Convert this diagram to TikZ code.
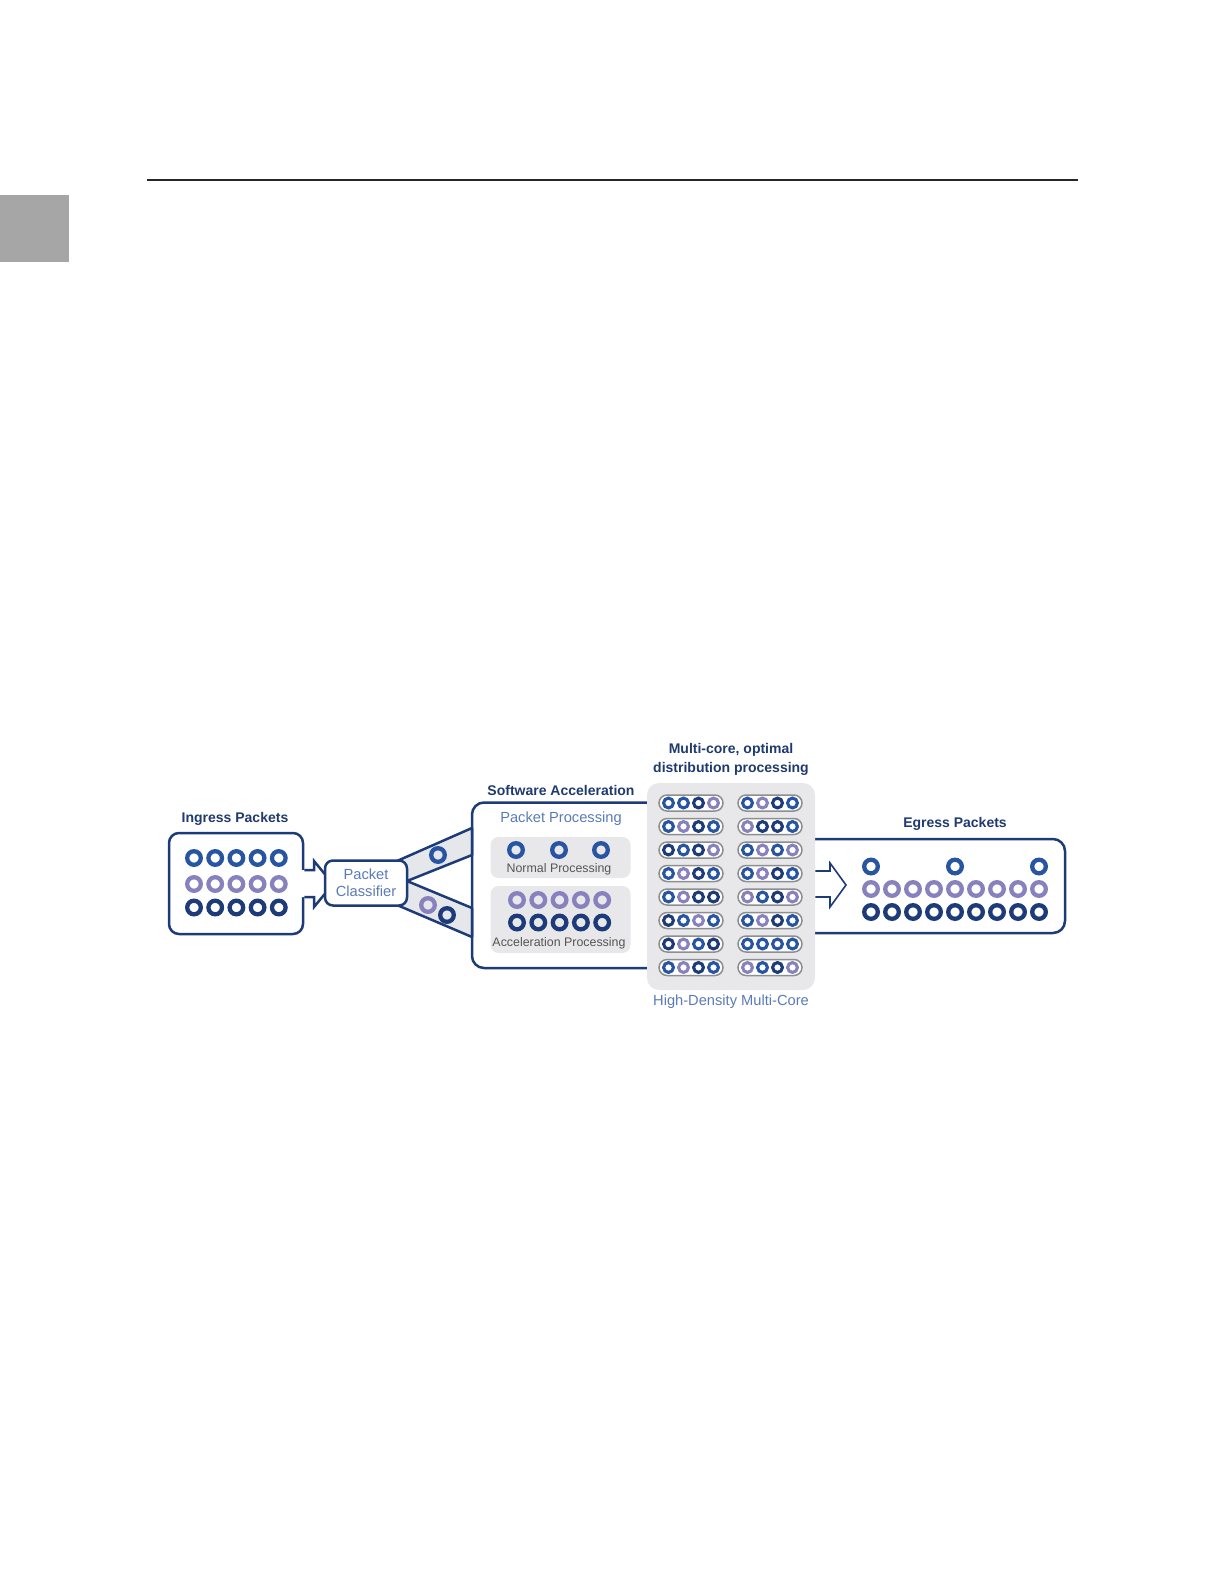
\documentclass[tikz,border=0pt]{standalone}
\usepackage{fontspec}
\setmainfont{Liberation Sans}
\newlength\upx \setlength\upx{0.75pt}
\definecolor{navy}{HTML}{1C3B78}
\definecolor{rblue}{HTML}{2755A2}
\definecolor{rpurp}{HTML}{8782BD}
\definecolor{tnavy}{HTML}{1F3A6E}
\definecolor{tblue}{HTML}{5A7BB8}
\definecolor{tgray}{HTML}{555555}
\definecolor{pgray}{HTML}{E8E8EA}
\definecolor{bandgray}{HTML}{E6E7EA}
\definecolor{pillline}{HTML}{8E8E8E}
\definecolor{sidegray}{HTML}{A6A6A6}
\tikzset{
  title/.style={text=tnavy, font=\bfseries\fontsize{10.5}{14.25}\selectfont, inner sep=0pt, align=center},
  bluelbl/.style={text=tblue, font=\fontsize{11}{12.75}\selectfont, inner sep=0pt, align=center},
  graylbl/.style={text=tgray, font=\fontsize{9.3}{11}\selectfont, inner sep=0pt},
  boxline/.style={draw=navy, line width=2.5\upx},
  whitebox/.style={boxline, fill=white, rounded corners=7.5pt, inner sep=0pt},
  graybox/.style={fill=pgray, rounded corners=6pt, inner sep=0pt},
  band/.style={boxline, fill=bandgray, line join=round},
  bigring/.style={line width=4.3\upx},
  smallring/.style={line width=3.1\upx},
  pill/.style={draw=pillline, fill=white, line width=1.5\upx, rounded corners=6pt},
}
\begin{document}
\begin{tikzpicture}[x=0.75pt,y=-0.75pt]
\useasboundingbox (0,0) rectangle (1224,1584);
% page header
\draw[line width=1.3\upx, draw=black!85] (147,180) -- (1078,180);
\fill[sidegray] (0,195) rectangle (69,262);

% band end points
\coordinate (uT) at (397,861);
\coordinate (mid) at (407,881);
\coordinate (lB) at (397,905);
\coordinate (saUT) at (472,828);
\coordinate (saUB) at (472,855);
\coordinate (saLT) at (472,908);
\coordinate (saLB) at (472,937);
% bands
\draw[band] (uT) -- (saUT) -- (saUB) -- (mid) -- cycle;
\draw[band] (mid) -- (saLT) -- (saLB) -- (lB) -- cycle;
\draw[bigring, rblue] (438,855) circle[radius=6.8];
\draw[bigring, rpurp] (428,905) circle[radius=6.8];
\draw[bigring, navy] (447,915) circle[radius=6.8];

% Software acceleration box (open to the right)
\draw[boxline, rounded corners=9pt] (660,802.5) -- (472,802.5) -- (472,968) -- (660,968);
% Egress box (open to the left)
\draw[boxline, rounded corners=9pt] (800,839) -- (1065,839) -- (1065,933) -- (800,933);

% core box
\node[graybox, rounded corners=9pt, minimum width=168\upx, minimum height=207\upx] (core) at (731,886.5) {};
% egress arrow
\draw[navy, line width=1.6\upx, line join=miter] (core.east |- 0,871) -- (830,871) -- (830,863) -- (846,885) -- (830,907) -- (830,897) -- (core.east |- 0,897);

% core pills
\foreach \y/\L/\R in {
  803/{rblue,rblue,navy,rpurp}/{rblue,rpurp,navy,rblue},
  826.5/{rblue,rpurp,navy,rblue}/{rpurp,navy,navy,rblue},
  850/{navy,rblue,navy,rpurp}/{rblue,rpurp,rblue,rpurp},
  873.5/{rblue,rpurp,navy,rblue}/{rblue,rpurp,navy,rblue},
  897/{rblue,rpurp,navy,navy}/{rpurp,rblue,navy,rpurp},
  920.5/{navy,rblue,rpurp,rblue}/{rblue,rpurp,navy,rblue},
  944/{navy,rpurp,rblue,navy}/{rblue,rblue,rblue,rblue},
  967.5/{rblue,rpurp,navy,rblue}/{rpurp,rblue,navy,rpurp}} {
  \draw[pill] (659,\y-8) rectangle (723,\y+8);
  \draw[pill] (738,\y-8) rectangle (802,\y+8);
  \foreach \c [count=\i from 0] in \L
    \draw[smallring, \c] (668.5+15*\i,\y) circle[radius=4.9];
  \foreach \c [count=\i from 0] in \R
    \draw[smallring, \c] (747.5+15*\i,\y) circle[radius=4.9];
}

% Ingress box with arrow
\node[whitebox, minimum width=134\upx, minimum height=101\upx] (ing) at (236,883.5) {};
\fill[white] (299,870) -- (314,870) -- (314,861) -- (333,884) -- (314,907) -- (314,897) -- (299,897) -- cycle;
\draw[boxline, line join=miter] (ing.east |- 0,870) -- (314,870) -- (314,861) -- (333,884) -- (314,907) -- (314,897) -- (ing.east |- 0,897);
\foreach \i in {0,...,4} {
  \draw[bigring, rblue] (194+21.2*\i,858) circle[radius=6.8];
  \draw[bigring, rpurp] (194+21.2*\i,884) circle[radius=6.8];
  \draw[bigring, navy] (194+21.2*\i,907.5) circle[radius=6.8];
}

% Packet classifier
\node[whitebox, rounded corners=6pt, minimum width=82\upx, minimum height=45\upx, text=tblue, font=\fontsize{11}{12.75}\selectfont, align=center] (cls) at (366,883) {Packet\\Classifier};

% inner processing boxes
\node[graybox, minimum width=140\upx, minimum height=41\upx] (nbox) at (560.5,857.5) {};
\node[graybox, minimum width=140\upx, minimum height=67\upx] (abox) at (560.5,919.5) {};
\foreach \x in {516,559,601}
  \draw[bigring, rblue] (\x,850) circle[radius=6.8];
\foreach \i in {0,...,4} {
  \draw[bigring, rpurp] (517+21.3*\i,900) circle[radius=6.8];
  \draw[bigring, navy] (517+21.3*\i,922.5) circle[radius=6.8];
}
\node[graylbl] (ntxt) at (559,869) {Normal Processing};
\node[graylbl] (atxt) at (559,943) {Acceleration Processing};

% egress rings
\foreach \x in {871,955,1039}
  \draw[bigring, rblue] (\x,866.5) circle[radius=6.8];
\foreach \i in {0,...,8} {
  \draw[bigring, rpurp] (871+21*\i,889) circle[radius=6.8];
  \draw[bigring, navy] (871+21*\i,912) circle[radius=6.8];
}

% titles and labels
\node[title] (ingT) at (235,819) {Ingress Packets};
\node[title] (saT) at (561,790) {Software Acceleration};
\node[title] (mcT) at (731,759) {Multi-core, optimal\\distribution processing};
\node[title] (egT) at (955,824) {Egress Packets};
\node[bluelbl] (ppT) at (561,819) {Packet Processing};
\node[bluelbl] (hdT) at (731,1002) {High-Density Multi-Core};
\end{tikzpicture}
\end{document}
